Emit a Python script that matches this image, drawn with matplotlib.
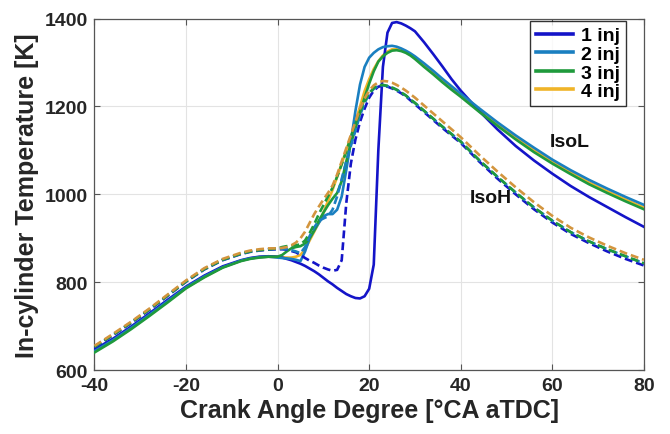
import matplotlib
matplotlib.use("Agg")
import matplotlib.pyplot as plt
from matplotlib.lines import Line2D

plt.rcParams['font.family'] = ['Liberation Sans', 'DejaVu Sans']
plt.rcParams['font.weight'] = 'bold'
plt.rcParams['axes.unicode_minus'] = False

# Crank angle grid [deg aTDC]
ca = [-40, -36, -32, -28, -24, -20, -16, -12, -8, -6, -4, -2,
      0, 1, 2, 3, 4, 5, 6, 7, 8, 9, 10, 11, 12, 13, 14, 15, 16, 17, 18, 19,
      20, 21, 22, 23, 24, 25, 26, 27, 28, 29, 30,
      32, 34, 36, 38, 40, 44, 48, 52, 56, 60, 64, 68, 72, 76, 80]

# IsoL (solid)
isol_1 = [647, 671, 699, 729, 760, 790, 815, 836, 850, 855, 858, 859,
          858, 856, 853, 850, 846, 842, 837, 831, 825, 818, 810, 802, 795, 787, 780, 773, 768, 764, 763, 768,
          785, 840, 1100, 1290, 1368, 1390, 1392, 1389, 1384, 1378, 1371,
          1346, 1319, 1291, 1262, 1236, 1190, 1148, 1110, 1077, 1047, 1019, 994, 971, 948, 926]
isol_2 = [643, 668, 696, 726, 757, 788, 813, 834, 849, 854, 857, 858,
          856, 855, 854, 853, 851, 848, 870, 900, 918, 935, 950, 955, 955, 965, 995, 1055, 1120, 1190, 1250, 1290,
          1311, 1322, 1330, 1335, 1337, 1338, 1336, 1332, 1327, 1321, 1314,
          1298, 1281, 1263, 1246, 1229, 1196, 1164, 1134, 1106, 1079, 1055, 1033, 1013, 994, 976]
isol_3 = [640, 665, 693, 723, 754, 786, 811, 833, 848, 853, 856, 858,
          858, 862, 870, 877, 880, 882, 888, 900, 918, 940, 958, 975, 990, 1003, 1030, 1075, 1115, 1150, 1185, 1220,
          1252, 1280, 1302, 1314, 1322, 1327, 1328, 1326, 1322, 1316, 1308,
          1290, 1273, 1255, 1238, 1222, 1188, 1156, 1125, 1096, 1070, 1046, 1023, 1003, 984, 966]
isol_4 = [642, 667, 695, 725, 756, 787, 812, 834, 849, 854, 857, 858,
          857, 857, 856, 856, 858, 862, 875, 895, 915, 935, 958, 985, 1010, 1040, 1070, 1100, 1130, 1165, 1200, 1235,
          1262, 1285, 1303, 1316, 1325, 1330, 1330, 1328, 1324, 1318, 1311,
          1293, 1276, 1258, 1241, 1225, 1191, 1159, 1129, 1100, 1074, 1050, 1027, 1007, 988, 970]

# IsoH (dashed)
isoh_1 = [652, 679, 707, 737, 769, 801, 829, 850, 864, 869, 872, 874,
          875, 875, 874, 871, 868, 862, 855, 849, 844, 838, 833, 829, 826, 828, 850, 980, 1070, 1125, 1165, 1195,
          1220, 1236, 1245, 1247, 1245, 1241, 1236, 1230, 1223, 1214, 1205,
          1187, 1169, 1151, 1134, 1117, 1075, 1036, 1000, 966, 936, 910, 889, 870, 853, 838]
isoh_2 = [653, 680, 708, 738, 770, 802, 830, 851, 865, 870, 873, 875,
          876, 876, 875, 873, 870, 866, 880, 905, 925, 940, 945, 950, 965, 995, 1035, 1075, 1110, 1145, 1180, 1208,
          1228, 1240, 1247, 1248, 1246, 1243, 1238, 1232, 1225, 1216, 1208,
          1190, 1172, 1154, 1137, 1120, 1078, 1040, 1004, 970, 940, 914, 893, 875, 859, 843]
isoh_3 = [653, 680, 708, 738, 770, 802, 830, 851, 865, 870, 873, 875,
          877, 880, 882, 883, 884, 886, 895, 912, 932, 955, 975, 995, 1015, 1040, 1068, 1098, 1130, 1160, 1188, 1212,
          1230, 1242, 1248, 1249, 1247, 1243, 1238, 1232, 1225, 1216, 1208,
          1190, 1172, 1154, 1137, 1120, 1078, 1040, 1004, 970, 940, 914, 893, 875, 859, 843]
isoh_4 = [655, 682, 710, 740, 772, 804, 832, 853, 867, 872, 875, 877,
          877, 878, 880, 884, 890, 900, 915, 935, 955, 972, 988, 1003, 1020, 1045, 1075, 1105, 1135, 1165, 1195, 1218,
          1236, 1248, 1255, 1258, 1257, 1254, 1249, 1243, 1236, 1228, 1220,
          1202, 1184, 1166, 1148, 1130, 1090, 1052, 1016, 982, 951, 924, 902, 883, 866, 851]

labels = ['1 inj', '2 inj', '3 inj', '4 inj']
colors = ['#1414c8', '#1a7fc0', '#1f9a3c', '#f0b428']
dash_colors = ['#1414c8', '#1a7fc0', '#1f9a3c', '#d3953e']

fig = plt.figure(figsize=(6.7, 4.35), dpi=100)
ax = fig.add_axes([0.141, 0.147, 0.820, 0.808])

solid = [isol_1, isol_2, isol_3, isol_4]
dashed = [isoh_1, isoh_2, isoh_3, isoh_4]
lw = 1.9
# draw order so that green sits over yellow, as in the reference
for i in [3, 0, 1, 2]:
    ax.plot(ca, solid[i], color=colors[i], lw=lw, zorder=3)
for i in [0, 1, 2, 3]:
    ax.plot(ca, dashed[i], color=dash_colors[i], lw=lw, ls=(0, (3, 1.5)), zorder=3)

ax.set_xlim(-40, 80)
ax.set_ylim(600, 1400)
ax.set_xticks([-40, -20, 0, 20, 40, 60, 80])
ax.set_yticks([600, 800, 1000, 1200, 1400])
ax.grid(True, color='#e3e3e3', lw=0.8)
ax.set_axisbelow(True)
ax.tick_params(direction='in', top=True, right=True, length=4, width=0.8,
               colors='#555555', labelcolor='#262626', labelsize=14)
ax.tick_params(axis='x', pad=5)
ax.tick_params(axis='y', pad=5)
for lab in ax.get_xticklabels() + ax.get_yticklabels():
    lab.set_fontweight('bold')
for s in ax.spines.values():
    s.set_color('#555555')
    s.set_linewidth(0.9)

ax.set_xlabel('Crank Angle Degree [°CA aTDC]', fontsize=18, fontweight='bold',
              color='#262626', labelpad=3)
ax.set_ylabel('In-cylinder Temperature [K]', fontsize=18, fontweight='bold',
              color='#262626', labelpad=4)

ax.text(59.5, 1120, 'IsoL', fontsize=14, fontweight='bold', va='center', ha='left', color='#111111')
ax.text(42, 993, 'IsoH', fontsize=14, fontweight='bold', va='center', ha='left', color='#111111')

handles = [Line2D([], [], color=c, lw=2.6) for c in colors]
leg = ax.legend(handles, labels, loc='upper right', bbox_to_anchor=(0.968, 0.993),
                frameon=True, fancybox=False, edgecolor='black',
                handlelength=1.9, handletextpad=0.45, borderpad=0.3, labelspacing=0.05,
                borderaxespad=0.0, prop={'weight': 'bold', 'size': 14})
leg.get_frame().set_linewidth(1.0)
leg.set_zorder(5)

fig.savefig('out.png', dpi=100)
